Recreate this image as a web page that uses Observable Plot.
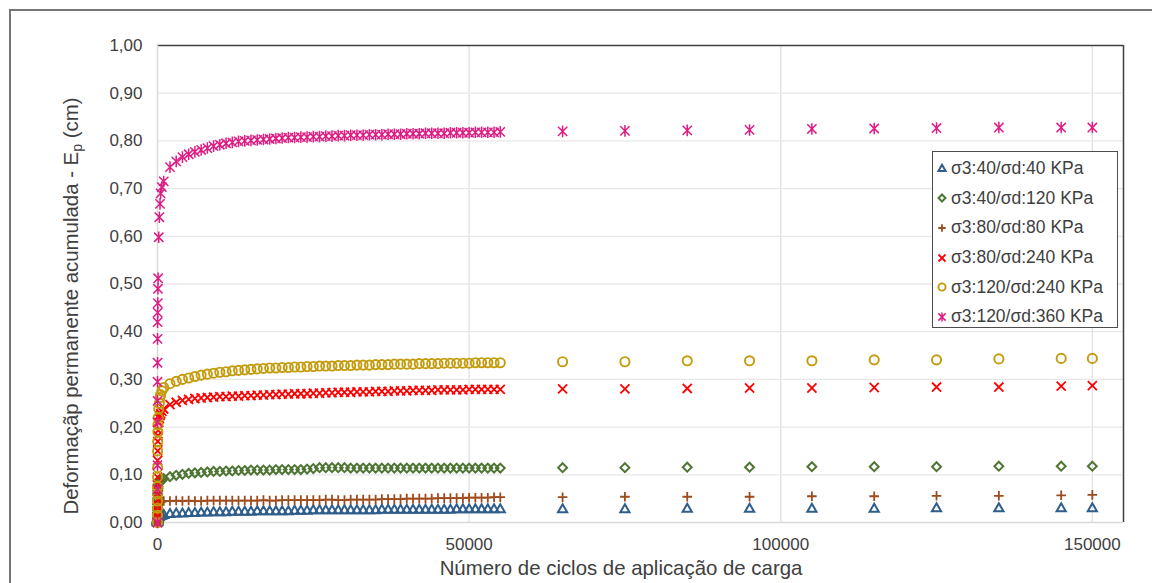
<!DOCTYPE html>
<html>
<head>
<meta charset="utf-8">
<script src="https://cdn.jsdelivr.net/npm/d3@7"></script>
<script src="https://cdn.jsdelivr.net/npm/@observablehq/plot@0.6"></script>
<style>
  html, body { margin: 0; padding: 0; background: #fff; overflow: hidden; }
  #wrap { position: relative; width: 1152px; height: 583px; font-family: "Liberation Sans", Arial, sans-serif; color: #404040; }
  #outer { position: absolute; left: 9px; top: 9px; width: 1300px; height: 800px; border: 2px solid #767676; box-sizing: border-box; pointer-events: none; }
  #chart { position: absolute; left: 0; top: 0; }
  .axis-title { position: absolute; white-space: nowrap; font-size: 20.4px; color: #404040; }
  #ytitle { left: 72px; top: 306px; transform: translate(-50%, -50%) rotate(-90deg); }
  #xtitle { left: 621px; top: 568px; transform: translate(-50%, -50%); }
  #ytitle sub { font-size: 14px; vertical-align: -4px; }
  #legend { position: absolute; left: 932px; top: 151px; width: 186px; height: 177px; border: 1px solid #4d4d4d; background: #fff; box-sizing: border-box; padding-top: 2px; }
  .row { display: flex; align-items: center; height: 29.6px; font-size: 17.5px; color: #404040; }
  .row svg { margin-left: 3px; margin-right: 3px; }
</style>
</head>
<body>
<div id="wrap">
  <div id="chart"></div>
  <div id="outer"></div>
  <div class="axis-title" id="ytitle">Deformaçãp permanente acumulada - E<sub>p</sub> (cm)</div>
  <div class="axis-title" id="xtitle">Número de ciclos de aplicação de carga</div>
  <div id="legend"></div>
</div>
<script>
// Load cycles at which permanent deformation was recorded
const cycles = [
  1, 2, 3, 4, 5, 6, 8, 10, 20, 30, 50, 70, 100, 200, 300, 400, 500, 700, 1000,
  2000, 3000, 4000, 5000, 6000, 7000, 8000, 9000, 10000, 11000, 12000, 13000, 14000, 15000,
  16000, 17000, 18000, 19000, 20000, 21000, 22000, 23000, 24000, 25000, 26000, 27000, 28000,
  29000, 30000, 31000, 32000, 33000, 34000, 35000, 36000, 37000, 38000, 39000, 40000, 41000,
  42000, 43000, 44000, 45000, 46000, 47000, 48000, 49000, 50000, 51000, 52000, 53000, 54000, 55000,
  65000, 75000, 85000, 95000, 105000, 115000, 125000, 135000, 145000, 150000
];

// Accumulated permanent deformation Ep (cm), one array per stress state
const s40_40 = [
  0.000, 0.001, 0.002, 0.003, 0.004, 0.004, 0.005, 0.006, 0.007, 0.008, 0.009, 0.010, 0.010, 0.011, 0.012, 0.013, 0.013, 0.014, 0.015,
  0.017, 0.018, 0.018, 0.019, 0.019, 0.020, 0.020, 0.021, 0.021, 0.021, 0.022, 0.022, 0.022, 0.022,
  0.023, 0.023, 0.023, 0.023, 0.023, 0.023, 0.024, 0.024, 0.024, 0.025, 0.025, 0.025, 0.025,
  0.025, 0.025, 0.025, 0.025, 0.025, 0.025, 0.025, 0.026, 0.026, 0.026, 0.026, 0.026, 0.026,
  0.026, 0.026, 0.026, 0.026, 0.026, 0.026, 0.027, 0.027, 0.027, 0.027, 0.027, 0.027, 0.027, 0.027,
  0.027, 0.027, 0.028, 0.028, 0.028, 0.028, 0.029, 0.029, 0.029, 0.029
];
const s40_120 = [
  0.000, 0.005, 0.010, 0.015, 0.020, 0.025, 0.032, 0.038, 0.050, 0.058, 0.066, 0.071, 0.075, 0.081, 0.084, 0.086, 0.088, 0.090, 0.092,
  0.096, 0.099, 0.101, 0.103, 0.104, 0.105, 0.106, 0.107, 0.107, 0.108, 0.108, 0.109, 0.109, 0.110,
  0.110, 0.110, 0.110, 0.111, 0.111, 0.111, 0.111, 0.111, 0.112, 0.113, 0.115, 0.115, 0.115,
  0.115, 0.115, 0.114, 0.114, 0.114, 0.114, 0.114, 0.114, 0.114, 0.114, 0.114, 0.114, 0.114,
  0.114, 0.114, 0.114, 0.114, 0.114, 0.114, 0.114, 0.114, 0.114, 0.114, 0.114, 0.114, 0.114, 0.114,
  0.115, 0.115, 0.116, 0.116, 0.117, 0.117, 0.117, 0.118, 0.118, 0.118
];
const s80_80 = [
  0.000, 0.003, 0.006, 0.009, 0.012, 0.014, 0.017, 0.020, 0.026, 0.030, 0.034, 0.036, 0.038, 0.041, 0.042, 0.043, 0.044, 0.044, 0.045,
  0.045, 0.046, 0.045, 0.046, 0.045, 0.045, 0.046, 0.046, 0.046, 0.046, 0.046, 0.046, 0.046, 0.046,
  0.046, 0.047, 0.046, 0.046, 0.047, 0.047, 0.047, 0.047, 0.047, 0.047, 0.047, 0.048, 0.048,
  0.047, 0.047, 0.048, 0.048, 0.048, 0.048, 0.048, 0.049, 0.049, 0.049, 0.049, 0.050, 0.050,
  0.050, 0.050, 0.050, 0.051, 0.051, 0.051, 0.051, 0.051, 0.052, 0.052, 0.052, 0.052, 0.053, 0.053,
  0.053, 0.054, 0.054, 0.054, 0.055, 0.055, 0.056, 0.056, 0.057, 0.058
];
const s80_240 = [
  0.000, 0.012, 0.024, 0.036, 0.048, 0.060, 0.080, 0.095, 0.130, 0.150, 0.170, 0.182, 0.193, 0.210, 0.218, 0.224, 0.228, 0.233, 0.238,
  0.247, 0.252, 0.256, 0.258, 0.260, 0.261, 0.262, 0.263, 0.264, 0.264, 0.265, 0.265, 0.266, 0.266,
  0.267, 0.267, 0.268, 0.268, 0.269, 0.269, 0.270, 0.270, 0.270, 0.271, 0.271, 0.272, 0.272,
  0.273, 0.273, 0.273, 0.274, 0.274, 0.274, 0.275, 0.275, 0.275, 0.276, 0.276, 0.276, 0.277,
  0.277, 0.277, 0.277, 0.278, 0.278, 0.278, 0.278, 0.278, 0.279, 0.279, 0.279, 0.279, 0.279, 0.279,
  0.280, 0.280, 0.281, 0.282, 0.282, 0.283, 0.284, 0.284, 0.286, 0.287
];
const s120_240 = [
  0.000, 0.015, 0.030, 0.045, 0.060, 0.075, 0.095, 0.115, 0.150, 0.170, 0.190, 0.205, 0.220, 0.238, 0.250, 0.262, 0.268, 0.276, 0.283,
  0.291, 0.296, 0.300, 0.303, 0.306, 0.309, 0.311, 0.313, 0.315, 0.316, 0.318, 0.319, 0.320, 0.321,
  0.322, 0.323, 0.324, 0.324, 0.325, 0.325, 0.326, 0.326, 0.327, 0.327, 0.328, 0.328, 0.328,
  0.329, 0.329, 0.329, 0.330, 0.330, 0.330, 0.331, 0.331, 0.331, 0.332, 0.332, 0.332, 0.332,
  0.333, 0.333, 0.333, 0.333, 0.334, 0.334, 0.334, 0.334, 0.334, 0.335, 0.335, 0.335, 0.335, 0.335,
  0.337, 0.337, 0.339, 0.339, 0.339, 0.341, 0.341, 0.343, 0.344, 0.344
];
const s120_360 = [
  0.000, 0.070, 0.120, 0.210, 0.255, 0.295, 0.335, 0.385, 0.420, 0.440, 0.460, 0.490, 0.512, 0.598, 0.640, 0.668, 0.690, 0.703, 0.715,
  0.745, 0.757, 0.766, 0.772, 0.777, 0.781, 0.785, 0.789, 0.792, 0.795, 0.797, 0.799, 0.800, 0.801,
  0.802, 0.803, 0.804, 0.805, 0.806, 0.807, 0.807, 0.808, 0.808, 0.809, 0.809, 0.810, 0.810,
  0.811, 0.811, 0.812, 0.812, 0.812, 0.813, 0.813, 0.813, 0.814, 0.814, 0.814, 0.815, 0.815,
  0.815, 0.816, 0.816, 0.816, 0.816, 0.817, 0.817, 0.817, 0.817, 0.818, 0.818, 0.818, 0.818, 0.819,
  0.820, 0.821, 0.822, 0.823, 0.825, 0.826, 0.827, 0.828, 0.828, 0.828
];

// Star marker: a vertical bar crossed by an X
const star = {
  draw(context, size) {
    const r = Math.sqrt(size / Math.PI);
    const d = r * 0.8;
    context.moveTo(0, -r); context.lineTo(0, r);
    context.moveTo(-d, -d); context.lineTo(d, d);
    context.moveTo(-d, d); context.lineTo(d, -d);
  }
};

const seriesNames = [
  "σ3:40/σd:40 KPa", "σ3:40/σd:120 KPa", "σ3:80/σd:80 KPa",
  "σ3:80/σd:240 KPa", "σ3:120/σd:240 KPa", "σ3:120/σd:360 KPa"
];
const seriesValues = [s40_40, s40_120, s80_80, s80_240, s120_240, s120_360];
const seriesColors = ["#2F5E8C", "#4E7534", "#9E4B1C", "#FF0000", "#C39B0B", "#DE1D84"];
const seriesSymbols = [d3.symbolTriangle2, d3.symbolDiamond2, d3.symbolPlus, d3.symbolTimes, d3.symbolCircle, star];
const seriesRadius = [4.4, 4, 3.2, 4.2, 4.6, 5.8];
const seriesStroke = [2, 2, 1.8, 1.8, 1.9, 1.5];

// Axis settings
const xDomain = [0, 155000];
const yDomain = [0, 1];
const xTicks = [0, 50000, 100000, 150000];
const yTicks = [0, 0.1, 0.2, 0.3, 0.4, 0.5, 0.6, 0.7, 0.8, 0.9, 1.0];
const xGrid = [50000, 100000, 150000];
const yGrid = [0.1, 0.2, 0.3, 0.4, 0.5, 0.6, 0.7, 0.8, 0.9];

const rows = seriesValues.map((vals) => cycles.map((c, i) => ({cycles: c, ep: vals[i]})));

const dotMarks = rows.map((data, k) =>
  Plot.dot(data, {
    x: "cycles", y: "ep",
    symbol: seriesSymbols[k],
    r: seriesRadius[k],
    stroke: seriesColors[k],
    fill: "none",
    strokeWidth: seriesStroke[k]
  })
);

const chart = Plot.plot({
  width: 1152,
  height: 583,
  marginLeft: 157,
  marginRight: 29,
  marginTop: 45,
  marginBottom: 61,
  style: {fontFamily: "Liberation Sans, Arial, sans-serif", fontSize: "17px", color: "#404040", background: "transparent"},
  x: {domain: xDomain},
  y: {domain: yDomain},
  marks: [
    Plot.gridX(xGrid, {stroke: "#e3e3e3", strokeOpacity: 1, strokeWidth: 1.4}),
    Plot.gridY(yGrid, {stroke: "#e8e8e8", strokeOpacity: 1, strokeWidth: 1.3}),
    Plot.ruleY([yDomain[1]], {stroke: "#404040", strokeWidth: 1.5}),
    Plot.ruleX([xDomain[1]], {stroke: "#404040", strokeWidth: 1.5}),
    Plot.ruleX([xDomain[0]], {stroke: "#d9d9d9", strokeWidth: 1.5}),
    Plot.ruleY([yDomain[0]], {stroke: "#d9d9d9", strokeWidth: 1.5}),
    Plot.axisX({ticks: xTicks, tickSize: 0, tickPadding: 15, tickFormat: (d) => String(d), label: null}),
    Plot.axisY({ticks: yTicks, tickSize: 0, tickPadding: 15, tickFormat: (d) => d.toFixed(2).replace(".", ","), label: null}),
    ...dotMarks
  ]
});
document.getElementById("chart").appendChild(chart);

// Legend: one row per stress state, same symbol shapes as the dots
const legend = d3.select("#legend");
seriesNames.forEach((name, k) => {
  const row = legend.append("div").attr("class", "row");
  const svg = row.append("svg").attr("width", 12).attr("height", 14);
  const r = seriesRadius[k] * 0.78;
  svg.append("path")
    .attr("transform", "translate(6,7)")
    .attr("d", d3.symbol(seriesSymbols[k], Math.PI * r * r)())
    .attr("fill", "none")
    .attr("stroke", seriesColors[k])
    .attr("stroke-width", seriesStroke[k]);
  row.append("span").text(name);
});
</script>
</body>
</html>
